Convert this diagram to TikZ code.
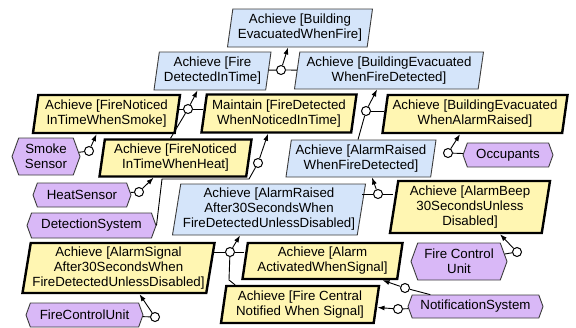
\documentclass[tikz,border=0pt]{standalone}
\usepackage{fontspec}
\setmainfont{Liberation Sans}
\usetikzlibrary{shapes.geometric,shapes.symbols,arrows.meta}

\definecolor{goalblue}{HTML}{D5E5FA}
\definecolor{reqyellow}{HTML}{FFF6B2}
\definecolor{agentlilac}{HTML}{D9B8F7}
\definecolor{edgegray}{HTML}{3C3C3C}

\begin{document}
\begin{tikzpicture}[x=1pt, y=-1pt]

                \tikzset{
                  box/.style        = {trapezium, trapezium left angle=79,
                                       trapezium right angle=101,
                                       trapezium stretches body, inner sep=0pt,
                                       align=center, font=\fontsize{13.3}{15}\selectfont},
                  goal/.style       = {box, fill=goalblue, draw=edgegray, line width=0.9pt},
                  req/.style        = {box, fill=reqyellow, draw=black, line width=2.4pt},
                  agent/.style      = {signal, signal to=east and west, signal pointer angle=140,
                                       fill=agentlilac, draw=edgegray, line width=0.9pt,
                                       inner sep=0pt, align=center,
                                       font=\fontsize{13.3}{15}\selectfont},
                  link/.style       = {circle, fill=white, draw=black, line width=1pt,
                                       minimum size=9pt, inner sep=0pt},
                  wire/.style       = {draw=black, line width=0.9pt},
                  toward/.style     = {wire, -{Latex[length=7pt,width=5pt]}}
                }

                \useasboundingbox (0,0) rectangle (576,327);

                % goals
                \node[goal, minimum width=145, minimum height=38] (evacFire) at (300,28)
                    {Achieve [Building\\EvacuatedWhenFire]};
                \node[goal, minimum width=117, minimum height=38] (detectInTime) at (212.5,71)
                    {Achieve [Fire\\DetectedInTime]};
                \node[goal, minimum width=189, minimum height=37] (evacDetected) at (389,70.5)
                    {Achieve [BuildingEvacuated\\WhenFireDetected]};
                \node[goal, minimum width=150, minimum height=37] (alarmDetected) at (361,158.5)
                    {Achieve [AlarmRaised\\WhenFireDetected]};
                \node[goal, minimum width=193, minimum height=51] (alarmAfter30) at (269,209.5)
                    {Achieve [AlarmRaised\\After30SecondsWhen\\FireDetectedUnlessDisabled]};

                % requirements
                \node[req, minimum width=147, minimum height=38] (noticeSmoke) at (106.5,114)
                    {Achieve [FireNoticed\\InTimeWhenSmoke]};
                \node[req, minimum width=155, minimum height=38] (detectNoticed) at (279,113.5)
                    {Maintain [FireDetected\\WhenNoticedInTime]};
                \node[req, minimum width=152, minimum height=37] (noticeHeat) at (175.5,158)
                    {Achieve [FireNoticed\\InTimeWhenHeat]};
                \node[req, minimum width=185, minimum height=38] (evacAlarm) at (475,114)
                    {Achieve [BuildingEvacuated\\WhenAlarmRaised]};
                \node[req, minimum width=160, minimum height=52] (beep30) at (470,207)
                    {Achieve [AlarmBeep\\30SecondsUnless\\Disabled]};
                \node[req, minimum width=192, minimum height=50] (signal30) at (118.5,268)
                    {Achieve [AlarmSignal\\After30SecondsWhen\\FireDetectedUnlessDisabled]};
                \node[req, minimum width=160, minimum height=36] (alarmSignal) at (322.5,261)
                    {Achieve [Alarm\\ActivatedWhenSignal]};
                \node[req, minimum width=158, minimum height=37] (centralSignal) at (300,304.5)
                    {Achieve [Fire Central\\Notified When Signal]};

                % agents
                \node[agent, minimum width=68, minimum height=37] (smoke) at (46,156.5) {Smoke\\Sensor};
                \node[agent, minimum width=98, minimum height=24] (heat) at (82,195) {HeatSensor};
                \node[agent, minimum width=129, minimum height=25] (detection) at (91.5,225.5) {DetectionSystem};
                \node[agent, minimum width=90, minimum height=24] (occupants) at (508,155) {Occupants};
                \node[agent, minimum width=96, minimum height=37] (fcuTop) at (459,261.5) {Fire Control\\Unit};
                \node[agent, minimum width=135, minimum height=23] (notify) at (475.5,306.5) {NotificationSystem};
                \node[agent, minimum width=117, minimum height=24] (fcuBottom) at (84.5,315) {FireControlUnit};

                \foreach \name/\x/\y in {
                    and1/281/70, and2/188/109, and3/366/111, and4/378/194, and5/230/252,
                    res1/89/151, res2/139/192, res3/258/163, res4/448/153,
                    res5/517/252, res6/405/288, res7/398/309, res8/155/317
                }{
                    \node[link] (\name) at (\x,\y) {};
                }

                % refinements
                \draw[toward] (and1) -- ([xshift=-12pt]evacFire.south);
                \draw[wire]   (and1) -- (detectInTime);
                \draw[wire]   (and1) -- (evacDetected);

                \draw[toward] (and2) -- ([xshift=-15pt]detectInTime.south);
                \draw[wire]   (and2) -- (and2 -| noticeSmoke.east);
                \draw[wire]   (and2) -- (and2 -| detectNoticed.west);
                \draw[wire]   (and2) -- ([xshift=-5pt]noticeHeat.north);

                \draw[toward] (and3) -- ([xshift=-12pt]evacDetected.south);
                \draw[wire]   (and3) -- (and3 -| evacAlarm.west);
                \draw[wire]   (and3) -- ([xshift=-3pt]alarmDetected.north);

                \draw[toward] (and4) -- ([xshift=11pt]alarmDetected.south);
                \draw[wire]   (and4) -- (and4 -| alarmAfter30.east);
                \draw[wire]   (and4) -- (and4 -| beep30.west);

                \draw[toward] (and5) -- ([xshift=-29pt]alarmAfter30.south);
                \draw[wire]   (and5) -- (and5 -| signal30.east);
                \draw[wire]   (and5) -- (and5 -| alarmSignal.west);
                \draw[wire]   (and5) -- ++(-1,28) -- ([xshift=-65pt]centralSignal.north);

                % responsibilities
                \draw[wire]   (smoke) -- (res1);
                \draw[toward] (res1) -- ([xshift=-10pt]noticeSmoke.south);
                \draw[wire]   (heat) -- (res2);
                \draw[toward] (res2) -- ([xshift=-22pt]noticeHeat.south);
                \draw[wire]   (res3) -- ++(-9,16) -- ++(-87,0) -- (detection.east);
                \draw[toward] (res3) -- ([xshift=-11pt]detectNoticed.south);
                \draw[wire]   (occupants) -- (res4);
                \draw[toward] (res4) -- ([xshift=-15pt]evacAlarm.south);
                \draw[wire]   (fcuTop) -- (res5);
                \draw[toward] (res5) -- ([xshift=30pt]beep30.south);
                \draw[wire]   (notify) -- (res6);
                \draw[toward] (res6) -- ([xshift=60pt]alarmSignal.south);
                \draw[wire]   (notify) -- (res7);
                \draw[toward] (res7) -- ([yshift=-3pt]centralSignal.east);
                \draw[wire]   (fcuBottom) -- (res8);
                \draw[toward] (res8) -- ([xshift=21pt]signal30.south);

\end{tikzpicture}
\end{document}
